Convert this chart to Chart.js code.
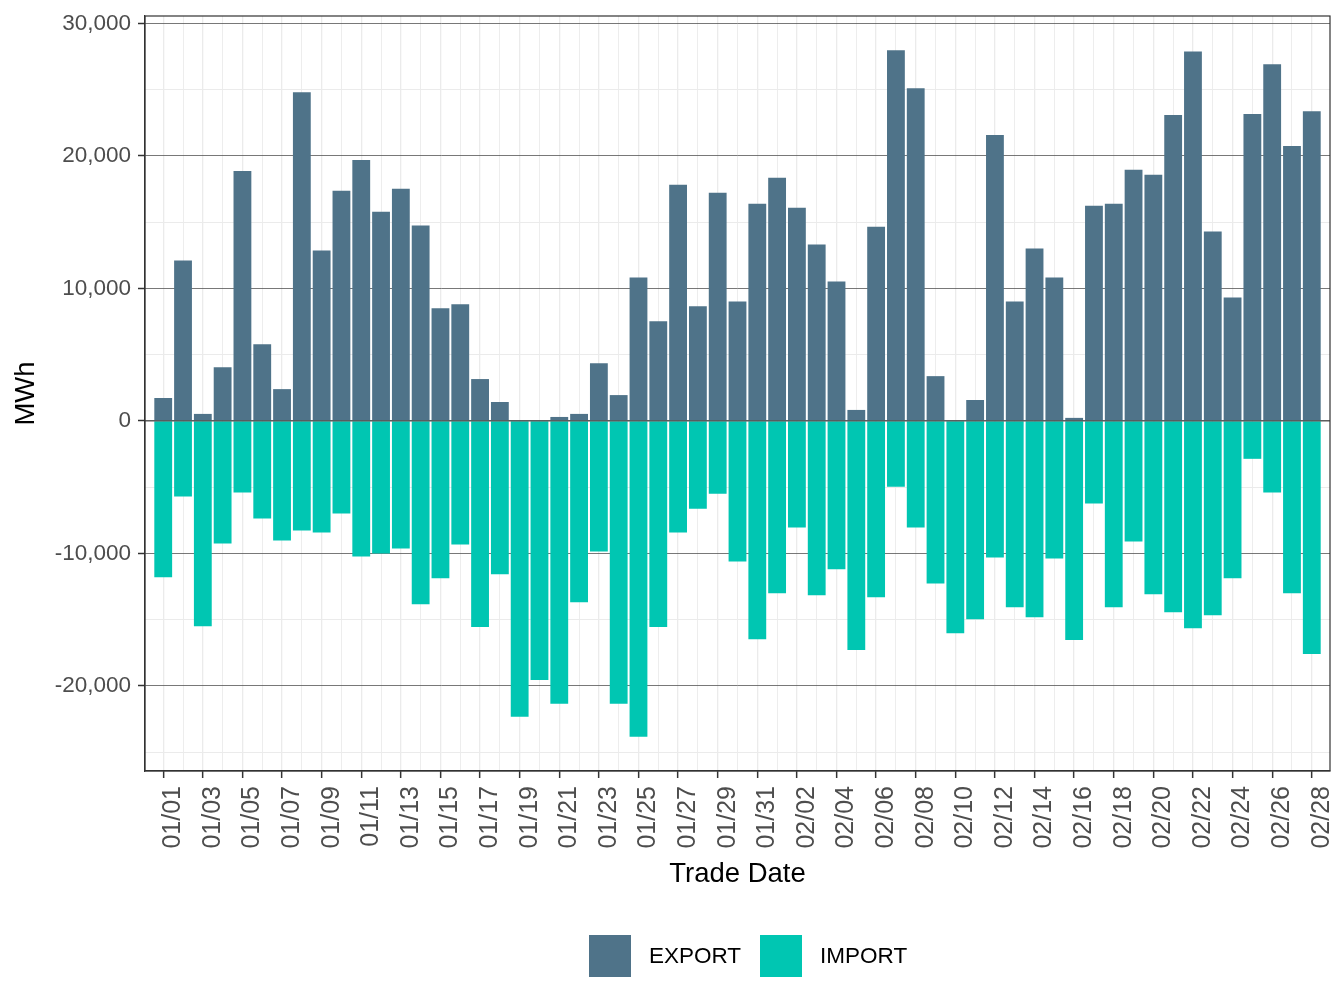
<!DOCTYPE html>
<html>
<head>
<meta charset="utf-8">
<script src="https://cdn.jsdelivr.net/npm/chart.js@4.4.1/dist/chart.umd.min.js"></script>
<style>
  html, body { margin: 0; padding: 0; background: #fff; }
  #wrap { position: relative; width: 1344px; height: 1008px; }
  #leyenda { position: absolute; left: 589px; top: 935px; display: flex; align-items: center;
    font-family: 'Liberation Sans', Arial, sans-serif; font-size: 22.5px; color: #000; }
  #leyenda .item { display: flex; align-items: center; margin-right: 19px; }
  #leyenda .caja { width: 42px; height: 42px; margin-right: 18px; }
</style>
</head>
<body>
<div id="wrap">
  <canvas id="chartTrade" width="1344" height="1008"></canvas>
  <div id="leyenda"></div>
</div>
<script>
// fechas de operacion (ene - feb)
var dates = ["01/01","01/02","01/03","01/04","01/05","01/06","01/07","01/08","01/09","01/10",
  "01/11","01/12","01/13","01/14","01/15","01/16","01/17","01/18","01/19","01/20",
  "01/21","01/22","01/23","01/24","01/25","01/26","01/27","01/28","01/29","01/30","01/31",
  "02/01","02/02","02/03","02/04","02/05","02/06","02/07","02/08","02/09","02/10",
  "02/11","02/12","02/13","02/14","02/15","02/16","02/17","02/18","02/19","02/20",
  "02/21","02/22","02/23","02/24","02/25","02/26","02/27","02/28"];

var exportMWh = [1730,12100,530,4060,18870,5790,2400,24810,12860,17370,
  19700,15790,17520,14740,8500,8800,3160,1430,0,0,
  300,530,4360,1950,10830,7520,17820,8650,17220,9020,16390,
  18350,16090,13310,10530,830,14660,27970,25110,3380,0,
  1580,21580,9020,13010,10830,230,16240,16390,18950,18570,
  23080,27890,14290,9320,23160,26920,20750,23380];

var importMWh = [-11800,-5710,-15490,-9250,-5410,-7370,-9020,-8270,-8420,-6990,
  -10230,-10000,-9620,-13830,-11880,-9320,-15560,-11580,-22330,-19550,
  -21350,-13680,-9850,-21350,-23830,-15560,-8420,-6620,-5490,-10600,-16470,
  -13010,-8050,-13160,-11200,-17290,-13310,-4960,-8050,-12260,-16020,
  -14960,-10300,-14060,-14810,-10380,-16540,-6240,-14060,-9100,-13080,
  -14440,-15640,-14660,-11880,-2860,-5410,-13010,-17590];

var yTicks = [-25000,-20000,-15000,-10000,-5000,0,5000,10000,15000,20000,25000,30000];

var FONT = "'Liberation Sans', Arial, sans-serif";

function toPoints(vals) {
  return vals.map(function(v, i) { return { x: i, y: v }; });
}

// linea en cero y marco del panel
var panelPlugin = {
  id: 'panel',
  afterDatasetsDraw: function(chart) {
    var ctx = chart.ctx, a = chart.chartArea;
    var y0 = chart.scales.y.getPixelForValue(0);
    ctx.save();
    ctx.strokeStyle = '#555555';
    ctx.lineWidth = 1.2;
    ctx.beginPath();
    ctx.moveTo(a.left, y0);
    ctx.lineTo(a.right, y0);
    ctx.stroke();
    ctx.strokeStyle = '#333333';
    ctx.lineWidth = 1.2;
    ctx.strokeRect(a.left, a.top, a.right - a.left, a.bottom - a.top);
    ctx.restore();
  }
};

var chart = new Chart(document.getElementById('chartTrade'), {
  type: 'bar',
  data: {
    datasets: [
      { label: 'EXPORT', data: toPoints(exportMWh), backgroundColor: '#4f7389', barPercentage: 0.9, categoryPercentage: 1.0 },
      { label: 'IMPORT', data: toPoints(importMWh), backgroundColor: '#00c6b2', barPercentage: 0.9, categoryPercentage: 1.0 }
    ]
  },
  options: {
    responsive: false,
    animation: false,
    layout: { padding: { top: 16, right: 14, left: 0, bottom: 92 } },
    plugins: {
      tooltip: { enabled: false },
      legend: { display: false }
    },
    scales: {
      x: {
        type: 'linear',
        stacked: true,
        min: -0.92,
        max: 58.92,
        offset: false,
        afterBuildTicks: function(scale) {
          scale.ticks = dates.map(function(d, i) { return { value: i }; });
        },
        afterFit: function(scale) {
          scale.height = 145;
          scale.paddingLeft = 0;
          scale.paddingRight = 0;
        },
        ticks: {
          autoSkip: false,
          maxRotation: 90,
          minRotation: 90,
          padding: 8,
          labelOffset: 10,
          color: '#4d4d4d',
          font: { family: FONT, size: 25 },
          callback: function(v, i) { return i % 2 === 0 ? dates[i] : ''; }
        },
        grid: {
          offset: false,
          color: '#ebebeb',
          lineWidth: function(c) { return c.index % 2 === 0 ? 1.3 : 0.9; },
          tickColor: function(c) { return c.index % 2 === 0 ? '#333' : 'rgba(0,0,0,0)'; },
          tickLength: 7,
          tickWidth: 1.5
        },
        border: { display: true, color: '#333', width: 1.2 },
        title: { display: true, text: 'Trade Date', color: '#000', font: { family: FONT, size: 27.5 }, padding: { top: 2, bottom: 25 } }
      },
      y: {
        stacked: true,
        min: -26420,
        max: 30560,
        afterBuildTicks: function(scale) {
          scale.ticks = yTicks.map(function(v) { return { value: v }; });
        },
        afterFit: function(scale) {
          scale.width = 145;
          scale.paddingTop = 0;
          scale.paddingBottom = 0;
        },
        ticks: {
          padding: 7,
          color: '#4d4d4d',
          font: { family: FONT, size: 22.5 },
          callback: function(v) { return v % 10000 === 0 ? v.toLocaleString('en-US') : ''; }
        },
        grid: {
          color: function(c) { return c.tick.value % 10000 === 0 ? '#555555' : '#ebebeb'; },
          lineWidth: function(c) { return c.tick.value % 10000 === 0 ? 0.8 : 1; },
          tickColor: function(c) { return c.tick.value % 10000 === 0 ? '#333' : 'rgba(0,0,0,0)'; },
          tickLength: 7,
          tickWidth: 1.5
        },
        border: { display: true, color: '#333', width: 1.2 },
        title: { display: true, text: 'MWh', color: '#000', font: { family: FONT, size: 27.5 }, padding: { top: 10, bottom: 0 } }
      }
    }
  },
  plugins: [panelPlugin]
});

// leyenda en HTML con los colores de cada serie
var leyenda = document.getElementById('leyenda');
chart.data.datasets.forEach(function(ds) {
  var item = document.createElement('div');
  item.className = 'item';
  var caja = document.createElement('div');
  caja.className = 'caja';
  caja.style.background = ds.backgroundColor;
  var txt = document.createElement('span');
  txt.textContent = ds.label;
  item.appendChild(caja);
  item.appendChild(txt);
  leyenda.appendChild(item);
});
</script>
</body>
</html>
